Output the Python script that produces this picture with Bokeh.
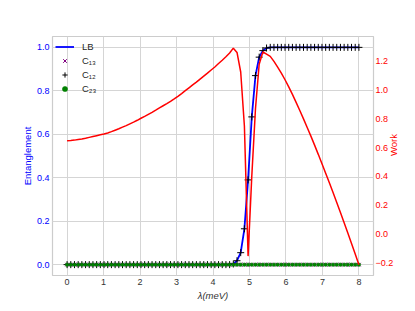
import math
import numpy as np
from bokeh.plotting import figure
from bokeh.models import (Range1d, LinearAxis, Grid, FixedTicker, Legend,
                          LegendItem, ColumnDataSource)
from bokeh.embed import file_html
from bokeh.resources import INLINE

# ---- data ----
LAMBDA = np.linspace(0, 8, 80)

C12 = [0.0] * 45 + [0.003, 0.018, 0.055, 0.165, 0.39, 0.68, 0.87, 0.955, 0.985, 0.997] + [1.0] * 25
LB = [0.0] * 45 + [0.003, 0.018, 0.055, 0.165, 0.39, 0.68, 0.87, 0.955, 0.985, 0.997] + [1.0] * 25
C13 = [0.0] * 80
C23 = [0.0] * 80

WORK = [0.648, 0.649, 0.652, 0.656, 0.660, 0.665, 0.671, 0.677, 0.683, 0.689,
        0.695, 0.702, 0.711, 0.721, 0.731, 0.742, 0.753, 0.765, 0.777, 0.790,
        0.804, 0.817, 0.831, 0.845, 0.860, 0.876, 0.891, 0.906, 0.922, 0.939,
        0.957, 0.976, 0.996, 1.016, 1.036, 1.055, 1.076, 1.097, 1.118, 1.140,
        1.161, 1.185, 1.208, 1.232, 1.258, 1.292, 1.262, 1.126, 0.750, -0.155,
        0.400, 0.870, 1.180, 1.265, 1.250, 1.235, 1.200, 1.160, 1.118, 1.072,
        1.022, 0.970, 0.915, 0.858, 0.800, 0.740, 0.680, 0.617, 0.553, 0.488,
        0.422, 0.355, 0.287, 0.218, 0.148, 0.077, 0.005, -0.067, -0.140, -0.215]

X_TICKS = [0, 1, 2, 3, 4, 5, 6, 7, 8]
LEFT_TICKS = [0.0, 0.2, 0.4, 0.6, 0.8, 1.0]
LEFT_LABELS = ["0.0", "0.2", "0.4", "0.6", "0.8", "1.0"]
RIGHT_TICKS = [-0.2, 0.0, 0.2, 0.4, 0.6, 0.8, 1.0, 1.2]
RIGHT_LABELS = ["\u22120.2", "0.0", "0.2", "0.4", "0.6", "0.8", "1.0", "1.2"]

FONT = "Liberation Sans"
GRID = "#d5d5d5"

src = ColumnDataSource(dict(x=LAMBDA, lb=LB, c12=C12, c13=C13, c23=C23, w=WORK))

p = figure(width=407, height=303, output_backend="svg", toolbar_location=None,
           x_range=Range1d(-0.4, 8.4), y_range=Range1d(-0.05, 1.05),
           min_border_left=52, min_border_right=34, min_border_top=36,
           min_border_bottom=27)
p.extra_y_ranges = {"work": Range1d(-0.29, 1.373)}
p.outline_line_color = "#cccccc"
p.outline_line_width = 1.2
p.background_fill_color = "white"

# left / bottom axes
for ax in (p.xaxis[0], p.yaxis[0]):
    ax.major_tick_out = 0
    ax.major_tick_in = 0
    ax.minor_tick_out = 0
    ax.minor_tick_in = 0
    ax.axis_line_color = None
    ax.major_label_text_font = FONT
    ax.major_label_text_font_size = "9px"
    ax.axis_label_text_font = FONT
    ax.axis_label_text_font_size = "9.5px"
    ax.major_label_standoff = 3
    ax.axis_label_standoff = 2

p.xaxis[0].ticker = FixedTicker(ticks=X_TICKS)
p.xaxis[0].major_label_overrides = {t: str(t) for t in X_TICKS}
p.xaxis[0].major_label_text_color = "#333333"
p.xaxis[0].axis_label = "\u03bb(meV)"
p.xaxis[0].axis_label_text_font_style = "italic"
p.xaxis[0].axis_label_text_color = "#333333"

p.yaxis[0].ticker = FixedTicker(ticks=LEFT_TICKS)
p.yaxis[0].major_label_overrides = dict(zip(LEFT_TICKS, LEFT_LABELS))
p.yaxis[0].major_label_text_color = "blue"
p.yaxis[0].axis_label = "Entanglement"
p.yaxis[0].axis_label_text_color = "blue"
p.yaxis[0].axis_label_text_font_style = "normal"
p.yaxis[0].axis_label_standoff = 1

right = LinearAxis(y_range_name="work", ticker=FixedTicker(ticks=RIGHT_TICKS))
right.major_label_overrides = dict(zip(RIGHT_TICKS, RIGHT_LABELS))
right.major_tick_out = 0
right.major_tick_in = 0
right.minor_tick_out = 0
right.minor_tick_in = 0
right.axis_line_color = None
right.major_label_text_font = FONT
right.major_label_text_font_size = "9px"
right.major_label_text_color = "red"
right.major_label_standoff = 2
right.axis_label = "Work"
right.axis_label_text_font = FONT
right.axis_label_text_font_size = "9.5px"
right.axis_label_text_font_style = "normal"
right.axis_label_text_color = "red"
right.axis_label_standoff = -3
if hasattr(right, "axis_label_orientation"):
    right.axis_label_orientation = math.pi / 2
p.add_layout(right, "right")

p.xgrid.grid_line_color = GRID
p.ygrid.grid_line_color = GRID
p.xgrid.grid_line_width = 1
p.ygrid.grid_line_width = 1
p.add_layout(Grid(dimension=1, axis=right, grid_line_color=GRID, grid_line_width=1))

# glyphs
r_lb = p.line("x", "lb", source=src, line_color="blue", line_width=1.8)
r_c13 = p.scatter("x", "c13", source=src, marker="x", size=5, line_color="purple",
                  line_width=1)
r_c12 = p.scatter("x", "c12", source=src, marker="cross", size=7, line_color="black",
                  line_width=1)
r_c23 = p.scatter("x", "c23", source=src, marker="circle", size=3.5, line_color="green",
                  fill_color="green", line_width=0.5)
r_w = p.line("x", "w", source=src, line_color="red", line_width=1.5,
             y_range_name="work")

legend = Legend(items=[
    LegendItem(label="LB", renderers=[r_lb]),
    LegendItem(label="C\u2081\u2083", renderers=[r_c13]),
    LegendItem(label="C\u2081\u2082", renderers=[r_c12]),
    LegendItem(label="C\u2082\u2083", renderers=[r_c23]),
], location="top_left")
legend.background_fill_alpha = 0
legend.border_line_color = None
legend.label_text_font = FONT
legend.label_text_font_size = "9.5px"
legend.label_text_color = "#262626"
legend.glyph_width = 19
legend.glyph_height = 13
legend.label_height = 14
legend.spacing = 0
legend.padding = 5
legend.margin = 3
legend.label_standoff = 8
p.add_layout(legend, "center")

open("out.html", "w").write(file_html(p, INLINE))
